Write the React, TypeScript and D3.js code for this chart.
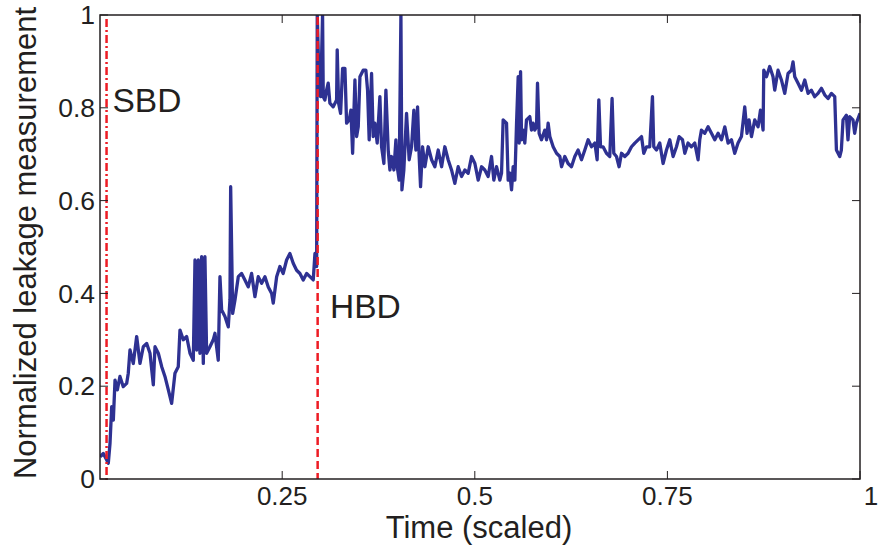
import React from "react";
import * as d3 from "d3";

const xTicks = [0.25, 0.5, 0.75, 1];
const yTicks = [0, 0.2, 0.4, 0.6, 0.8, 1];
const yTickLabels = ["0", "0.2", "0.4", "0.6", "0.8", "1"];
const xTickLabels = ["0.25", "0.5", "0.75", "1"];
const sbdTime = 0.022;
const hbdTime = 0.296;

const time = [
  0.0135, 0.0178, 0.0222, 0.0243, 0.0265, 0.0287, 0.0308, 0.033, 0.036, 0.0394,
  0.0437, 0.0481, 0.0502, 0.0524, 0.0567, 0.0611, 0.0654, 0.0697, 0.0741, 0.0784,
  0.0827, 0.0849, 0.0892, 0.0936, 0.0978, 0.1022, 0.1065, 0.1108, 0.1151, 0.1173,
  0.1216, 0.126, 0.1303, 0.1346, 0.1368, 0.139, 0.1411, 0.1432, 0.1454, 0.1476,
  0.1497, 0.1519, 0.1562, 0.1605, 0.1627, 0.167, 0.1692, 0.1714, 0.1757, 0.18,
  0.1822, 0.1831, 0.1857, 0.1887, 0.193, 0.1973, 0.2016, 0.2059, 0.2103, 0.2146,
  0.2189, 0.2233, 0.2276, 0.2319, 0.2363, 0.2384, 0.2428, 0.247, 0.2513, 0.2557,
  0.26, 0.2643, 0.2687, 0.273, 0.2773, 0.2817, 0.286, 0.2903, 0.2925, 0.2947,
  0.2955, 0.2981, 0.2999, 0.3024, 0.3033, 0.3054, 0.3076, 0.3097, 0.3119, 0.3162,
  0.3206, 0.3214, 0.3232, 0.3258, 0.3284, 0.3314, 0.3336, 0.337, 0.3392, 0.3414,
  0.3444, 0.3466, 0.3487, 0.3509, 0.3551, 0.3586, 0.3608, 0.3629, 0.366, 0.3681,
  0.3703, 0.3733, 0.3768, 0.379, 0.382, 0.3846, 0.3876, 0.3898, 0.392, 0.395,
  0.3976, 0.3993, 0.4018, 0.4041, 0.4054, 0.4079, 0.4114, 0.4148, 0.4179, 0.4209,
  0.4235, 0.4257, 0.4278, 0.4296, 0.4322, 0.4352, 0.4395, 0.4439, 0.4482, 0.4525,
  0.4569, 0.4611, 0.4654, 0.4698, 0.4741, 0.4784, 0.4828, 0.4871, 0.4914, 0.4958,
  0.5001, 0.5044, 0.5088, 0.513, 0.5173, 0.5217, 0.5247, 0.5282, 0.5325,
  0.5347, 0.5368, 0.5412, 0.5433, 0.5455, 0.5477, 0.5498, 0.552, 0.5542, 0.5563,
  0.5576, 0.5594, 0.5607, 0.5627, 0.5649, 0.5671, 0.5714, 0.5736, 0.5757, 0.5779,
  0.5801, 0.5814, 0.5835, 0.5866, 0.5909, 0.5931, 0.5952, 0.5974, 0.6017, 0.6061,
  0.6104, 0.6126, 0.6168, 0.6211, 0.6255, 0.6298, 0.6341, 0.6385, 0.6428, 0.6471,
  0.6515, 0.6558, 0.6588, 0.661, 0.6632, 0.6665, 0.6709, 0.6752, 0.6782, 0.6804,
  0.6839, 0.6873, 0.6904, 0.6947, 0.699, 0.7034, 0.7077, 0.712, 0.7164, 0.7193,
  0.7228, 0.7271, 0.7306, 0.7323, 0.7358, 0.7401, 0.7444, 0.7488, 0.7531, 0.7574,
  0.7618, 0.7652, 0.7696, 0.7726, 0.7768, 0.7812, 0.7855, 0.7898, 0.792, 0.7942,
  0.7985, 0.8028, 0.8072, 0.8115, 0.8158, 0.8202, 0.8245, 0.8288, 0.8332, 0.8374,
  0.8417, 0.8461, 0.8504, 0.8534, 0.856, 0.8591, 0.8634, 0.8677, 0.8708, 0.8742,
  0.8751, 0.8786, 0.8828, 0.8871, 0.8893, 0.8936, 0.898, 0.9023, 0.9066, 0.911,
  0.9131, 0.9153, 0.9196, 0.924, 0.9283, 0.9326, 0.9369, 0.9412, 0.9455, 0.9499,
  0.9542, 0.9585, 0.9629, 0.9672, 0.9694, 0.9737, 0.9758, 0.978, 0.9823, 0.9844,
  0.9866, 0.9909, 0.9931, 0.9953, 1.0,
];

const leakage = [
  0.048, 0.055, 0.041, 0.034, 0.077, 0.156, 0.127, 0.213, 0.192, 0.221,
  0.199, 0.206, 0.228, 0.278, 0.249, 0.307, 0.249, 0.285, 0.292, 0.271,
  0.203, 0.285, 0.271, 0.242, 0.221, 0.192, 0.163, 0.228, 0.242, 0.321,
  0.3, 0.307, 0.271, 0.256, 0.472, 0.278, 0.472, 0.271, 0.479, 0.249,
  0.479, 0.271, 0.285, 0.3, 0.314, 0.256, 0.436, 0.364, 0.35, 0.328,
  0.386, 0.63, 0.357, 0.386, 0.436, 0.443, 0.429, 0.414, 0.443, 0.393,
  0.436, 0.422, 0.436, 0.414, 0.4, 0.379, 0.436, 0.458, 0.443, 0.472,
  0.486, 0.465, 0.45, 0.443, 0.429, 0.443, 0.436, 0.429, 0.486, 0.458,
  1.0, 0.838, 0.824, 1.0, 0.824, 0.817, 0.838, 0.853, 0.81, 0.802,
  0.817, 0.925, 0.81, 0.788, 0.885, 0.885, 0.767, 0.774, 0.795, 0.702,
  0.86, 0.738, 0.759, 0.867, 0.881, 0.881, 0.838, 0.731, 0.874, 0.738,
  0.767, 0.724, 0.824, 0.716, 0.68, 0.838, 0.709, 0.666, 0.695, 0.666,
  0.731, 0.673, 0.644, 1.0, 0.623, 0.666, 0.788, 0.688, 0.716, 0.795,
  0.709, 0.802, 0.695, 0.63, 0.716, 0.673, 0.716, 0.688, 0.673, 0.709,
  0.673, 0.716, 0.688, 0.666, 0.637, 0.673, 0.652, 0.666, 0.659, 0.695,
  0.68, 0.644, 0.673, 0.666, 0.652, 0.695, 0.644, 0.673, 0.644,
  0.659, 0.774, 0.767, 0.644, 0.659, 0.623, 0.673, 0.644, 0.767, 0.867,
  0.724, 0.878, 0.731, 0.752, 0.724, 0.774, 0.781, 0.752, 0.767, 0.752,
  0.759, 0.853, 0.745, 0.731, 0.752, 0.731, 0.767, 0.738, 0.716, 0.702,
  0.695, 0.673, 0.695, 0.68, 0.673, 0.695, 0.709, 0.688, 0.709, 0.731,
  0.716, 0.724, 0.688, 0.817, 0.716, 0.716, 0.702, 0.695, 0.82, 0.702,
  0.695, 0.673, 0.702, 0.695, 0.702, 0.716, 0.724, 0.731, 0.738, 0.702,
  0.716, 0.716, 0.824, 0.716, 0.709, 0.724, 0.68, 0.709, 0.731, 0.695,
  0.716, 0.738, 0.731, 0.702, 0.724, 0.716, 0.724, 0.688, 0.731, 0.752,
  0.745, 0.759, 0.745, 0.731, 0.745, 0.731, 0.759, 0.724, 0.731, 0.702,
  0.724, 0.738, 0.802, 0.745, 0.774, 0.738, 0.774, 0.759, 0.795, 0.752,
  0.881, 0.867, 0.889, 0.867, 0.838, 0.881, 0.86, 0.831, 0.874, 0.881,
  0.899, 0.867, 0.853, 0.838, 0.86, 0.831, 0.838, 0.824, 0.831, 0.842,
  0.828, 0.82, 0.831, 0.824, 0.709, 0.695, 0.709, 0.774, 0.784, 0.731,
  0.781, 0.774, 0.745, 0.767, 0.788,
];

const W = 878;
const H = 550;
const left = 100;
const right = 860;
const top = 15;
const bottom = 479;
const ink = "#231f20";
const font = "'Liberation Sans', Arial, Helvetica, sans-serif";

export default function App() {
  const x = d3.scaleLinear().domain([0.0135, 1]).range([left, right]);
  const y = d3.scaleLinear().domain([0, 1]).range([bottom, top]);
  const pts = time.map((t, i) => [t, leakage[i]] as [number, number]);
  const line = d3
    .line<[number, number]>()
    .x((d) => x(d[0]))
    .y((d) => y(d[1]));
  const tl = 8;
  return (
    <svg
      width={W}
      height={H}
      style={{ position: "absolute", left: 0, top: 0, background: "#fff" }}
      fontFamily={font}
    >
      <defs>
        <clipPath id="plotClip">
          <rect x={left} y={top} width={right - left} height={bottom - top} />
        </clipPath>
      </defs>
      <rect x={0} y={0} width={W} height={H} fill="#fff" />
      <path
        d={line(pts) || ""}
        fill="none"
        stroke="#2e3192"
        strokeWidth={3.3}
        strokeLinejoin="round"
        clipPath="url(#plotClip)"
      />
      <line
        x1={x(sbdTime)}
        x2={x(sbdTime)}
        y1={top + 4}
        y2={bottom + 3}
        stroke="#ed1c24"
        strokeWidth={2.5}
        strokeDasharray="8 3 2 3"
      />
      <line
        x1={x(hbdTime)}
        x2={x(hbdTime)}
        y1={top + 2}
        y2={bottom}
        stroke="#ed1c24"
        strokeWidth={2.5}
        strokeDasharray="8 4"
      />
      <rect
        x={left}
        y={top}
        width={right - left}
        height={bottom - top}
        fill="none"
        stroke={ink}
        strokeWidth={1.5}
      />
      {xTicks.map((t) => (
        <g key={"xt" + t}>
          <line x1={x(t)} x2={x(t)} y1={bottom} y2={bottom - tl} stroke={ink} strokeWidth={1} />
          <line x1={x(t)} x2={x(t)} y1={top} y2={top + tl} stroke={ink} strokeWidth={1} />
        </g>
      ))}
      {yTicks.map((t) => (
        <g key={"yt" + t}>
          <line x1={left} x2={left + tl} y1={y(t)} y2={y(t)} stroke={ink} strokeWidth={1} />
          <line x1={right} x2={right - tl} y1={y(t)} y2={y(t)} stroke={ink} strokeWidth={1} />
        </g>
      ))}
      {xTicks.map((t, i) => (
        <text
          key={"xl" + t}
          x={t === 1 ? x(t) + 11 : x(t)}
          y={505}
          textAnchor="middle"
          fontSize={26}
          fill={ink}
        >
          {xTickLabels[i]}
        </text>
      ))}
      {yTicks.map((t, i) => (
        <text
          key={"yl" + t}
          x={95}
          y={y(t)}
          dy="0.35em"
          textAnchor="end"
          fontSize={26.5}
          fill={ink}
        >
          {yTickLabels[i]}
        </text>
      ))}
      <text x={479} y={538} textAnchor="middle" fontSize={31} fill={ink}>
        Time (scaled)
      </text>
      <text
        transform={`translate(36,243) rotate(-90)`}
        textAnchor="middle"
        fontSize={31}
        fill={ink}
      >
        Normalized leakage measurement
      </text>
      <text x={112.5} y={111.7} fontSize={33.5} fill={ink}>
        SBD
      </text>
      <text x={330} y={318.3} fontSize={33.5} fill={ink}>
        HBD
      </text>
    </svg>
  );
}
